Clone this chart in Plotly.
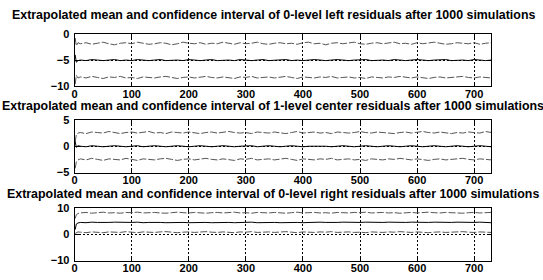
import plotly.graph_objects as go

# sample indices
x_early = [1, 3, 6]
x_main = list(range(10, 731, 10))
x_idx = x_early + x_main

titles = [
    "Extrapolated mean and confidence interval of 0-level left residuals after 1000 simulations",
    "Extrapolated mean and confidence interval of 1-level center residuals after 1000 simulations",
    "Extrapolated mean and confidence interval of 0-level right residuals after 1000 simulations",
]

x_ticks = [0, 100, 200, 300, 400, 500, 600, 700]
y_ticks_1 = [-10, -5, 0]
y_ticks_2 = [-5, 0, 5]
y_ticks_3 = [-10, 0, 10]

# Panel 1: 0-level left
upper_1 = [-0.8, -2.3, -1.7, -1.9, -1.7, -2.0,
           -1.8, -1.6, -1.9, -2.1, -1.8, -1.7, -1.9, -1.6, -1.8, -2.0,
           -1.9, -1.7, -1.8, -2.1, -1.9, -1.6, -1.8, -1.9, -1.7, -2.0,
           -1.8, -1.9, -1.6, -1.8, -2.0, -1.7, -1.9, -1.8, -1.6, -1.9,
           -2.0, -1.8, -1.7, -1.9, -1.8, -2.0, -1.7, -1.6, -1.9, -1.8,
           -2.1, -1.8, -1.7, -1.9, -1.8, -1.6, -1.9, -2.0, -1.8, -1.7,
           -1.9, -1.8, -1.6, -1.9, -1.8, -2.0, -1.7, -1.9, -1.8, -1.6,
           -1.8, -2.0, -1.9, -1.7, -1.8, -1.9, -1.7, -2.0, -1.8, -1.7]
mean_1 = [-4.0, -5.4, -5.1, -5.0, -5.1, -4.9,
          -5.0, -5.1, -5.0, -4.9, -5.1, -5.0, -5.1, -4.9, -5.0, -5.1,
          -5.0, -4.9, -5.1, -5.0, -5.0, -5.1, -4.9, -5.0, -5.1, -5.0,
          -4.9, -5.1, -5.0, -5.0, -5.1, -4.9, -5.0, -5.1, -5.0, -4.9,
          -5.1, -5.0, -5.0, -4.9, -5.1, -5.0, -5.1, -5.0, -4.9, -5.0,
          -5.1, -5.0, -4.9, -5.0, -5.1, -5.0, -5.0, -4.9, -5.1, -5.0,
          -5.0, -5.1, -4.9, -5.0, -5.1, -5.0, -4.9, -5.0, -5.1, -5.0,
          -5.0, -4.9, -5.1, -5.0, -5.0, -5.1, -4.9, -5.0, -5.1, -5.0]
lower_1 = [-9.6, -7.9, -8.4, -8.2, -8.4, -8.1,
           -8.3, -8.5, -8.2, -8.3, -8.1, -8.4, -8.3, -8.5, -8.2, -8.3,
           -8.4, -8.2, -8.1, -8.3, -8.5, -8.3, -8.2, -8.4, -8.3, -8.1,
           -8.3, -8.4, -8.2, -8.3, -8.5, -8.2, -8.3, -8.1, -8.4, -8.3,
           -8.2, -8.4, -8.3, -8.1, -8.3, -8.5, -8.2, -8.3, -8.4, -8.2,
           -8.3, -8.1, -8.4, -8.3, -8.2, -8.4, -8.3, -8.5, -8.2, -8.3,
           -8.4, -8.2, -8.3, -8.1, -8.3, -8.4, -8.2, -8.3, -8.5, -8.3,
           -8.2, -8.4, -8.3, -8.2, -8.1, -8.3, -8.4, -8.2, -8.3, -8.4]

# Panel 2: 1-level center
upper_2 = [0.8, 2.2, 2.5, 2.6, 2.4, 2.7,
           2.6, 2.5, 2.8, 2.6, 2.4, 2.6, 2.7, 2.5, 2.6, 2.8,
           2.5, 2.6, 2.4, 2.7, 2.6, 2.5, 2.7, 2.6, 2.4, 2.6,
           2.7, 2.5, 2.6, 2.8, 2.6, 2.5, 2.6, 2.4, 2.7, 2.6,
           2.5, 2.7, 2.6, 2.4, 2.6, 2.8, 2.5, 2.6, 2.7, 2.5,
           2.6, 2.4, 2.7, 2.6, 2.5, 2.6, 2.8, 2.6, 2.5, 2.7,
           2.6, 2.5, 2.4, 2.6, 2.7, 2.5, 2.6, 2.8, 2.6, 2.5,
           2.7, 2.6, 2.4, 2.6, 2.5, 2.7, 2.6, 2.5, 2.8, 2.6]
mean_2 = [0.9, -0.2, 0.1, 0.0, -0.1, 0.1,
          0.0, -0.1, 0.0, 0.1, 0.0, -0.1, 0.0, 0.1, -0.1, 0.0,
          0.1, 0.0, -0.1, 0.0, 0.1, 0.0, -0.1, 0.0, 0.1, 0.0,
          -0.1, 0.0, 0.1, 0.0, -0.1, 0.0, 0.0, 0.1, -0.1, 0.0,
          0.1, 0.0, -0.1, 0.0, 0.1, 0.0, -0.1, 0.0, 0.0, 0.1,
          0.0, -0.1, 0.0, 0.1, 0.0, -0.1, 0.0, 0.1, 0.0, -0.1,
          0.0, 0.1, 0.0, -0.1, 0.0, 0.1, 0.0, -0.1, 0.0, 0.1,
          0.0, -0.1, 0.0, 0.1, 0.0, -0.1, 0.0, 0.1, 0.0, -0.1]
lower_2 = [-4.2, -3.0, -2.6, -2.4, -2.6, -2.3,
           -2.5, -2.7, -2.4, -2.5, -2.6, -2.3, -2.5, -2.7, -2.4, -2.5,
           -2.6, -2.4, -2.3, -2.5, -2.7, -2.5, -2.4, -2.6, -2.5, -2.3,
           -2.5, -2.6, -2.4, -2.5, -2.7, -2.4, -2.5, -2.3, -2.6, -2.5,
           -2.4, -2.6, -2.5, -2.3, -2.5, -2.7, -2.4, -2.5, -2.6, -2.4,
           -2.5, -2.3, -2.6, -2.5, -2.4, -2.6, -2.5, -2.7, -2.4, -2.5,
           -2.6, -2.4, -2.5, -2.3, -2.5, -2.6, -2.4, -2.5, -2.7, -2.5,
           -2.4, -2.6, -2.5, -2.4, -2.3, -2.5, -2.6, -2.4, -2.5, -2.6]

# Panel 3: 0-level right
upper_3 = [6.0, 7.4, 7.9, 8.1, 8.3, 8.0,
           8.2, 8.4, 8.1, 8.2, 8.0, 8.3, 8.2, 8.4, 8.1, 8.2,
           8.3, 8.1, 8.0, 8.2, 8.4, 8.2, 8.1, 8.3, 8.2, 8.0,
           8.2, 8.3, 8.1, 8.2, 8.4, 8.1, 8.2, 8.0, 8.3, 8.2,
           8.1, 8.3, 8.2, 8.0, 8.2, 8.4, 8.1, 8.2, 8.3, 8.1,
           8.2, 8.0, 8.3, 8.2, 8.1, 8.3, 8.2, 8.4, 8.1, 8.2,
           8.3, 8.1, 8.2, 8.0, 8.2, 8.3, 8.1, 8.2, 8.4, 8.2,
           8.1, 8.3, 8.2, 8.1, 8.0, 8.2, 8.3, 8.1, 8.2, 8.3]
mean_3 = [1.8, 3.9, 4.3, 4.5, 4.4, 4.6,
          4.5, 4.4, 4.5, 4.6, 4.5, 4.4, 4.5, 4.6, 4.4, 4.5,
          4.6, 4.5, 4.4, 4.5, 4.6, 4.5, 4.4, 4.5, 4.6, 4.5,
          4.4, 4.5, 4.6, 4.5, 4.4, 4.5, 4.5, 4.6, 4.4, 4.5,
          4.6, 4.5, 4.4, 4.5, 4.6, 4.5, 4.4, 4.5, 4.5, 4.6,
          4.5, 4.4, 4.5, 4.6, 4.5, 4.4, 4.5, 4.6, 4.5, 4.4,
          4.5, 4.6, 4.5, 4.4, 4.5, 4.6, 4.5, 4.4, 4.5, 4.6,
          4.5, 4.4, 4.5, 4.6, 4.5, 4.4, 4.5, 4.6, 4.5, 4.4]
lower_3 = [0.3, 0.6, 0.9, 0.8, 0.6, 0.9,
           0.8, 0.6, 0.9, 0.8, 0.7, 1.0, 0.8, 0.6, 0.9, 0.8,
           0.7, 0.9, 1.0, 0.8, 0.6, 0.8, 0.9, 0.7, 0.8, 1.0,
           0.8, 0.7, 0.9, 0.8, 0.6, 0.9, 0.8, 1.0, 0.7, 0.8,
           0.9, 0.7, 0.8, 1.0, 0.8, 0.6, 0.9, 0.8, 0.7, 0.9,
           0.8, 1.0, 0.7, 0.8, 0.9, 0.7, 0.8, 0.6, 0.9, 0.8,
           0.7, 0.9, 0.8, 1.0, 0.8, 0.7, 0.9, 0.8, 0.6, 0.8,
           0.9, 0.7, 0.8, 0.9, 1.0, 0.8, 0.7, 0.9, 0.8, 0.7]

panels = [
    (upper_1, mean_1, lower_1, y_ticks_1, [-10, 0]),
    (upper_2, mean_2, lower_2, y_ticks_2, [-5, 5]),
    (upper_3, mean_3, lower_3, y_ticks_3, [-10, 10]),
]

W, H = 543, 280
left_px, right_px = 72, 491
tops_px = [29, 119, 211]
panel_h = 55
title_px = [9, 104.5, 196.5]
title_x = 271.5

FONT = "Liberation Sans, Arial, sans-serif"
tick_font = dict(family=FONT, size=11, color="black", weight="bold")
title_font = dict(family=FONT, size=12.4, color="black", weight="bold")

fig = go.Figure()

for i, (up, mn, lo, yt, yr) in enumerate(panels):
    n = i + 1
    xa = "x" if n == 1 else f"x{n}"
    ya = "y" if n == 1 else f"y{n}"
    for series, style in [(up, dict(color="#555555", width=1, dash="7px,2px")),
                          (lo, dict(color="#555555", width=1, dash="7px,2px")),
                          (mn, dict(color="black", width=1))]:
        fig.add_trace(go.Scatter(x=x_idx, y=series, mode="lines", line=style,
                                 xaxis=xa, yaxis=ya, showlegend=False, hoverinfo="skip"))
    top = tops_px[i]
    bot = top + panel_h
    dom_y = [1 - bot / H, 1 - top / H]
    axis_common = dict(showline=True, linecolor="black", linewidth=1, mirror="ticks",
                       ticks="inside", ticklen=4, tickcolor="black",
                       showgrid=True, gridcolor="black", griddash="2px,2px", gridwidth=1,
                       zeroline=False, tickfont=tick_font)
    fig.layout[f"xaxis{'' if n == 1 else n}"] = dict(
        domain=[left_px / W, right_px / W], range=[0, 730], tickvals=x_ticks,
        anchor=ya, ticklabelstandoff=-3, **axis_common)
    fig.layout[f"yaxis{'' if n == 1 else n}"] = dict(
        domain=dom_y, range=yr, tickvals=yt, anchor=xa, ticklabelstandoff=2, **axis_common)
    fig.add_annotation(text=titles[i], xref="paper", yref="paper",
                       x=title_x / W, y=1 - title_px[i] / H,
                       xanchor="center", yanchor="middle", showarrow=False,
                       font=title_font)

fig.update_layout(width=W, height=H, margin=dict(l=0, r=0, t=0, b=0),
                  plot_bgcolor="white", paper_bgcolor="white")

fig.write_html(
    "out.html",
    config={"displayModeBar": False},
    post_script="document.body.style.margin='0';document.documentElement.style.overflow='hidden';",
)
